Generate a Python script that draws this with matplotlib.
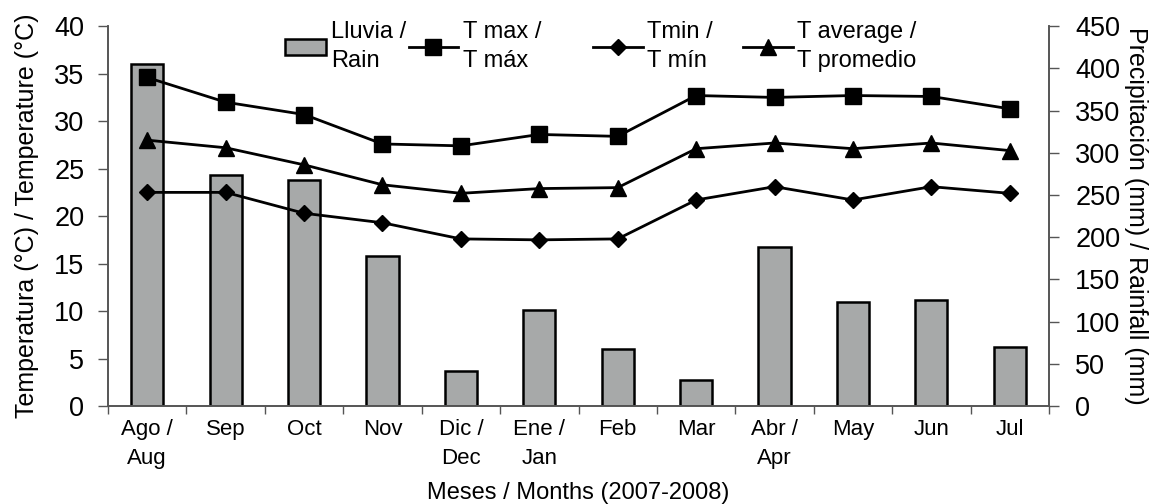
import numpy as np
import matplotlib.pyplot as plt
from matplotlib import font_manager

months = ["Ago /\nAug", "Sep", "Oct", "Nov", "Dic /\nDec", "Ene /\nJan", "Feb",
          "Mar", "Abr /\nApr", "May", "Jun", "Jul"]
rain = [405, 274, 268, 178, 41, 114, 68, 31, 188, 123, 126, 70]
t_max = [34.6, 32.0, 30.7, 27.6, 27.4, 28.6, 28.4, 32.7, 32.5, 32.7, 32.6, 31.3]
t_min = [22.5, 22.5, 20.3, 19.3, 17.6, 17.5, 17.6, 21.7, 23.1, 21.7, 23.1, 22.4]
t_avg = [28.0, 27.2, 25.4, 23.3, 22.4, 22.9, 23.0, 27.1, 27.7, 27.1, 27.7, 26.9]

plt.rcParams["font.family"] = ["Liberation Sans", "DejaVu Sans"]
names = {f.name for f in font_manager.fontManager.ttflist}
narrow = "Liberation Sans Narrow" if "Liberation Sans Narrow" in names else "Liberation Sans"

fig = plt.figure(figsize=(11.54, 5.04), dpi=100)
ax = fig.add_axes([0.0936, 0.1944, 0.8154, 0.7536])
ax2 = ax.twinx()

x = np.arange(len(months))
bars = ax2.bar(x, rain, width=0.41, color="#a7a9a9", edgecolor="black",
               linewidth=1.8, label="Lluvia /\nRain", zorder=1)
ax2.set_ylim(0, 450)
ax2.set_yticks(np.arange(0, 451, 50))

# keep lines above bars
ax.set_zorder(ax2.get_zorder() + 1)
ax.patch.set_visible(False)

l1, = ax.plot(x, t_max, "k-", marker="s", markersize=11, linewidth=2, label="T max /\nT máx")
l2, = ax.plot(x, t_min, "k-", marker="D", markersize=8, linewidth=2, label="Tmin /\nT mín")
l3, = ax.plot(x, t_avg, "k-", marker="^", markersize=11, linewidth=2, label="T average /\nT promedio")
ax.set_ylim(0, 40)
ax.set_yticks(np.arange(0, 41, 5))
ax.set_xlim(-0.5, len(months) - 0.5)

ax.set_xticks(x)
ax.set_xticklabels(months, fontsize=16, family=narrow, va="top", linespacing=1.5)
ax.set_xticks(np.arange(-0.5, len(months), 1), minor=True)
ax.tick_params(axis="x", which="major", length=0, pad=9)
ax.tick_params(axis="x", which="minor", length=6, width=1, color="#555555")
ax.tick_params(axis="y", labelsize=19.5, length=7, width=1, color="#555555", pad=10)
ax2.tick_params(axis="y", labelsize=19.5, length=7, width=1, color="#555555", pad=12)

for a in (ax, ax2):
    a.spines["top"].set_visible(False)
    for s in ("left", "right", "bottom"):
        a.spines[s].set_color("#555555")
        a.spines[s].set_linewidth(1.2)

ax.set_ylabel("Temperatura (°C) / Temperature (°C)", fontsize=18, labelpad=11)
ax2.set_ylabel("Precipitación (mm) / Rainfall (mm)", fontsize=18, rotation=270,
               labelpad=20)
ax.set_xlabel("Meses / Months (2007-2008)", fontsize=17, labelpad=10)

# one legend box per entry, spaced like the original
entries = [(bars, 0.247, 1.75), (l1, 0.354, 2.1), (l2, 0.514, 2.1), (l3, 0.644, 2.1)]
for handle, x0, hl in entries:
    leg = fig.legend([handle], [handle.get_label()], loc="upper left",
                     bbox_to_anchor=(x0, 0.958), frameon=False, fontsize=17,
                     handlelength=hl, handletextpad=0.2, borderpad=0, borderaxespad=0)
    for t in leg.get_texts():
        t.set_linespacing(1.4)

fig.savefig("out.png", dpi=100)
